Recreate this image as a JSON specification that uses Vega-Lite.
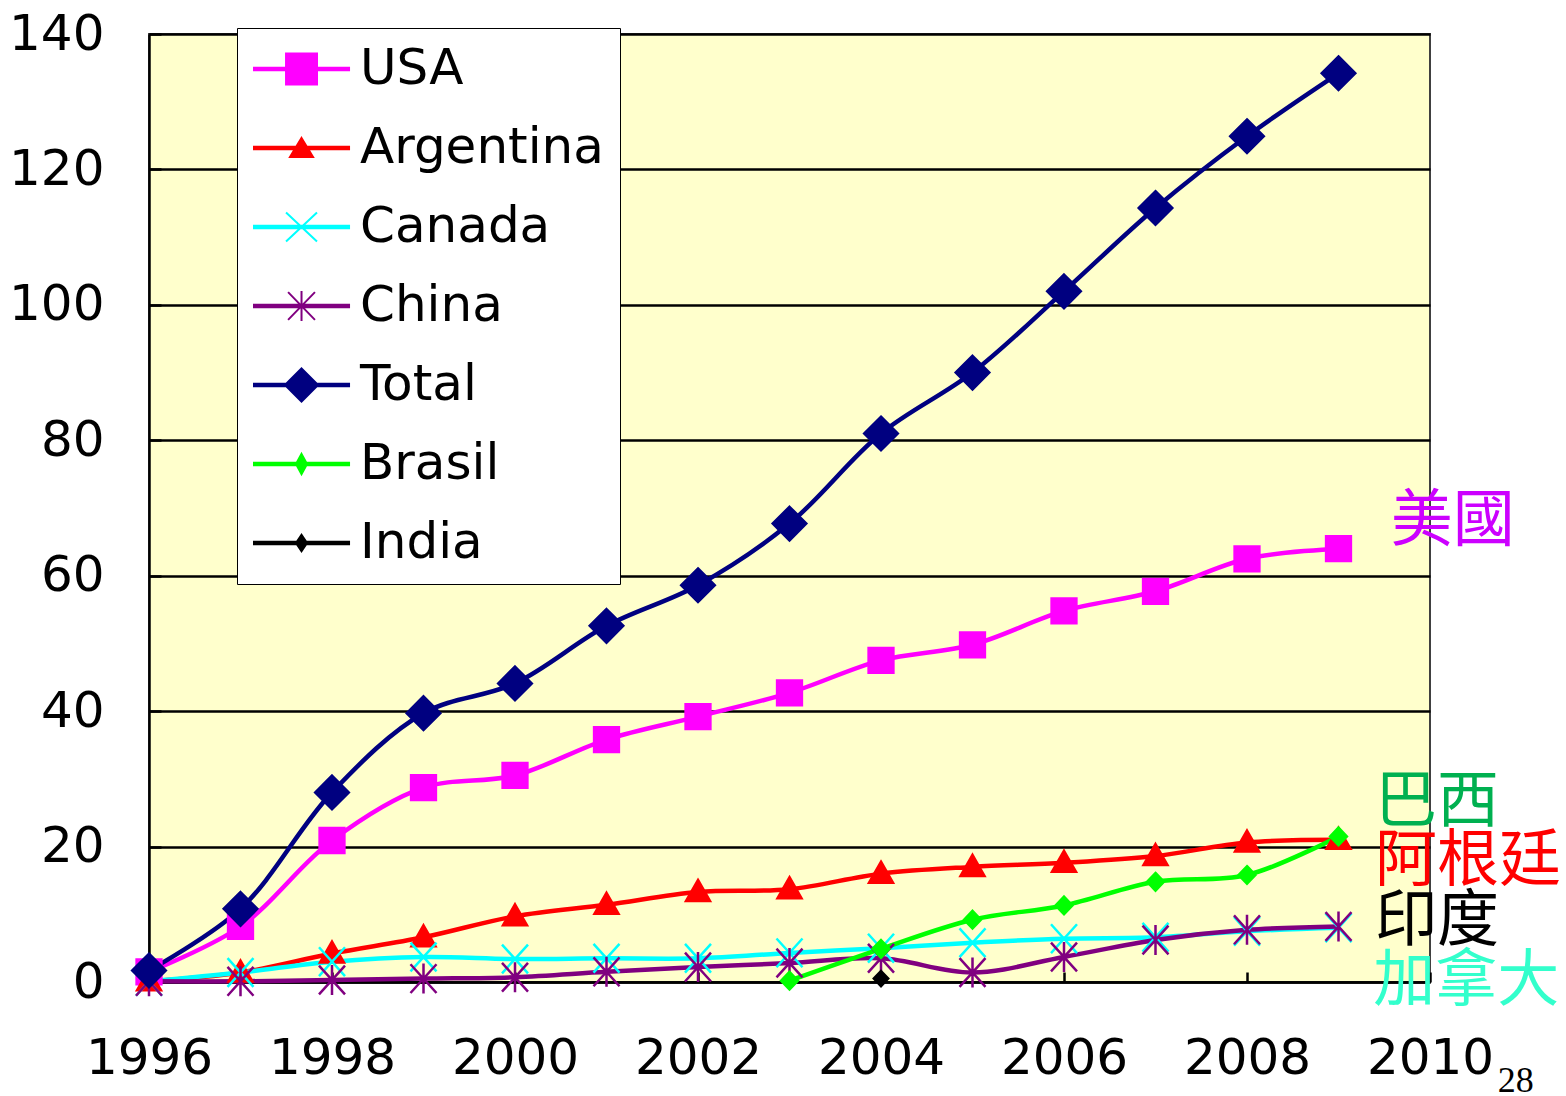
{
  "$schema": "https://vega.github.io/schema/vega-lite/v6.json",
  "autosize": "none",
  "width": 1281,
  "height": 948,
  "padding": {"left": 149, "top": 34, "right": 136, "bottom": 114},
  "background": "white",
  "config": {
    "view": {"fill": "#FFFFCC", "stroke": "#404040", "strokeWidth": 2},
    "axis": {
      "labelFont": "DejaVu Sans",
      "labelFontSize": 50,
      "labelColor": "#000000",
      "domainColor": "#000000",
      "domainWidth": 2.5,
      "tickColor": "#000000",
      "tickWidth": 2.5,
      "labelFlush": false,
      "labelOverlap": false,
      "labelBound": false,
      "title": null
    }
  },
  "datasets": {
    "series": [
      {"series": "USA", "year": 1996, "value": 1.5},
      {"series": "USA", "year": 1997, "value": 8.2},
      {"series": "USA", "year": 1998, "value": 20.9},
      {"series": "USA", "year": 1999, "value": 28.7},
      {"series": "USA", "year": 2000, "value": 30.5},
      {"series": "USA", "year": 2001, "value": 35.8},
      {"series": "USA", "year": 2002, "value": 39.2},
      {"series": "USA", "year": 2003, "value": 42.7},
      {"series": "USA", "year": 2004, "value": 47.5},
      {"series": "USA", "year": 2005, "value": 49.8},
      {"series": "USA", "year": 2006, "value": 54.8},
      {"series": "USA", "year": 2007, "value": 57.7},
      {"series": "USA", "year": 2008, "value": 62.5},
      {"series": "USA", "year": 2009, "value": 64.0},
      {"series": "Argentina", "year": 1996, "value": 0.1},
      {"series": "Argentina", "year": 1997, "value": 1.4},
      {"series": "Argentina", "year": 1998, "value": 4.2},
      {"series": "Argentina", "year": 1999, "value": 6.6},
      {"series": "Argentina", "year": 2000, "value": 9.7},
      {"series": "Argentina", "year": 2001, "value": 11.4},
      {"series": "Argentina", "year": 2002, "value": 13.3},
      {"series": "Argentina", "year": 2003, "value": 13.7},
      {"series": "Argentina", "year": 2004, "value": 16.0},
      {"series": "Argentina", "year": 2005, "value": 17.0},
      {"series": "Argentina", "year": 2006, "value": 17.6},
      {"series": "Argentina", "year": 2007, "value": 18.6},
      {"series": "Argentina", "year": 2008, "value": 20.6},
      {"series": "Argentina", "year": 2009, "value": 21.0},
      {"series": "Canada", "year": 1996, "value": 0.1},
      {"series": "Canada", "year": 1997, "value": 1.4},
      {"series": "Canada", "year": 1998, "value": 3.0},
      {"series": "Canada", "year": 1999, "value": 3.7},
      {"series": "Canada", "year": 2000, "value": 3.4},
      {"series": "Canada", "year": 2001, "value": 3.5},
      {"series": "Canada", "year": 2002, "value": 3.5},
      {"series": "Canada", "year": 2003, "value": 4.3},
      {"series": "Canada", "year": 2004, "value": 5.0},
      {"series": "Canada", "year": 2005, "value": 5.8},
      {"series": "Canada", "year": 2006, "value": 6.4},
      {"series": "Canada", "year": 2007, "value": 6.6},
      {"series": "Canada", "year": 2008, "value": 7.5},
      {"series": "Canada", "year": 2009, "value": 8.0},
      {"series": "China", "year": 1996, "value": 0.1},
      {"series": "China", "year": 1997, "value": 0.1},
      {"series": "China", "year": 1998, "value": 0.3},
      {"series": "China", "year": 1999, "value": 0.5},
      {"series": "China", "year": 2000, "value": 0.7},
      {"series": "China", "year": 2001, "value": 1.5},
      {"series": "China", "year": 2002, "value": 2.2},
      {"series": "China", "year": 2003, "value": 2.8},
      {"series": "China", "year": 2004, "value": 3.5},
      {"series": "China", "year": 2005, "value": 1.4},
      {"series": "China", "year": 2006, "value": 3.7},
      {"series": "China", "year": 2007, "value": 6.2},
      {"series": "China", "year": 2008, "value": 7.7},
      {"series": "China", "year": 2009, "value": 8.2},
      {"series": "Total", "year": 1996, "value": 1.7},
      {"series": "Total", "year": 1997, "value": 10.8},
      {"series": "Total", "year": 1998, "value": 28.0},
      {"series": "Total", "year": 1999, "value": 39.7},
      {"series": "Total", "year": 2000, "value": 44.1},
      {"series": "Total", "year": 2001, "value": 52.6},
      {"series": "Total", "year": 2002, "value": 58.6},
      {"series": "Total", "year": 2003, "value": 67.7},
      {"series": "Total", "year": 2004, "value": 81.0},
      {"series": "Total", "year": 2005, "value": 90.0},
      {"series": "Total", "year": 2006, "value": 102.0},
      {"series": "Total", "year": 2007, "value": 114.3},
      {"series": "Total", "year": 2008, "value": 124.9},
      {"series": "Total", "year": 2009, "value": 134.2},
      {"series": "Brasil", "year": 2003, "value": 0.2},
      {"series": "Brasil", "year": 2004, "value": 4.9},
      {"series": "Brasil", "year": 2005, "value": 9.2},
      {"series": "Brasil", "year": 2006, "value": 11.3},
      {"series": "Brasil", "year": 2007, "value": 14.8},
      {"series": "Brasil", "year": 2008, "value": 15.8},
      {"series": "Brasil", "year": 2009, "value": 21.5},
      {"series": "India", "year": 2004, "value": 0.5}
    ],
    "notes": [
      {"label": "美國", "year": 2009.57, "value": 68.0},
      {"label": "巴西", "year": 2009.4, "value": 26.4},
      {"label": "阿根廷", "year": 2009.4, "value": 17.7},
      {"label": "印度", "year": 2009.4, "value": 8.9},
      {"label": "加拿大", "year": 2009.38, "value": 0.0}
    ],
    "page": [
      {"label": "28", "year": 2010.74, "value": -14.6}
    ]
  },
  "encoding": {
    "x": {
      "field": "year",
      "type": "quantitative",
      "scale": {"domain": [1996, 2010], "nice": false, "zero": false},
      "axis": {
        "values": [1996, 1998, 2000, 2002, 2004, 2006, 2008, 2010],
        "format": "d",
        "grid": false,
        "tickSize": -10,
        "labelPadding": 61
      }
    },
    "y": {
      "field": "value",
      "type": "quantitative",
      "scale": {"domain": [0, 140], "nice": false},
      "axis": {
        "values": [0, 20, 40, 60, 80, 100, 120, 140],
        "grid": true,
        "gridColor": "#000000",
        "gridWidth": 2.5,
        "tickSize": -12,
        "labelPadding": 57
      }
    },
    "color": {
      "field": "series",
      "type": "nominal",
      "scale": {
        "domain": ["USA", "Argentina", "Canada", "China", "Total", "Brasil", "India"],
        "range": ["#FF00FF", "#FF0000", "#00FFFF", "#800080", "#000080", "#00FF00", "#000000"]
      },
      "legend": {
        "orient": "none",
        "legendX": 88,
        "legendY": -6,
        "title": null,
        "fillColor": "#FFFFFF",
        "strokeColor": "#000000",
        "padding": 16,
        "labelFont": "DejaVu Sans",
        "labelFontSize": 50,
        "labelColor": "#000000",
        "labelOffset": 57,
        "labelLimit": 400,
        "symbolSize": 2304,
        "symbolStrokeWidth": 2,
        "symbolOpacity": 1,
        "rowPadding": 29
      }
    }
  },
  "layer": [
    {
      "data": {"name": "series"},
      "mark": {"type": "line", "interpolate": "catmull-rom", "strokeWidth": 4.5}
    },
    {
      "data": {"name": "series"},
      "mark": {"type": "point", "filled": true, "opacity": 0, "strokeWidth": 2},
      "encoding": {
        "stroke": {
          "field": "series",
          "type": "nominal",
          "scale": {
            "domain": ["USA", "Argentina", "Canada", "China", "Total", "Brasil", "India"],
            "range": ["#FF00FF", "#FF0000", "#00FFFF", "#800080", "#000080", "#00FF00", "#000000"]
          },
          "legend": null
        },
        "shape": {
          "field": "series",
          "type": "nominal",
          "scale": {
            "domain": ["USA", "Argentina", "Canada", "China", "Total", "Brasil", "India"],
            "range": [
              "M-1,-0.05H2.96V0.05H-1ZM0.335,-0.645H1.625V0.645H0.335Z",
              "M-1,-0.05H2.96V0.05H-1ZM0.98,-0.42L1.46,0.375H0.5Z",
              "M-1,-0.05H2.96V0.05H-1ZM0.335,-0.6L1.625,0.6M0.335,0.6L1.625,-0.6",
              "M-1,-0.05H2.96V0.05H-1ZM0.42,-0.58L1.54,0.58M0.42,0.58L1.54,-0.58M0.98,-0.62V0.62",
              "M-1,-0.05H2.96V0.05H-1ZM0.98,-0.69L1.67,0L0.98,0.69L0.29,0Z",
              "M-1,-0.05H2.96V0.05H-1ZM0.98,-0.42L1.21,0L0.98,0.42L0.75,0Z",
              "M-1,-0.05H2.96V0.05H-1ZM0.98,-0.34L1.21,0L0.98,0.34L0.75,0Z"
            ]
          }
        }
      }
    },
    {
      "data": {"name": "series"},
      "transform": [{"filter": {"field": "series", "equal": "USA"}}],
      "mark": {"type": "point", "filled": true, "opacity": 1, "size": 1600, "stroke": "#FF00FF", "strokeWidth": 2.5, "shape": "M-0.62,-0.62H0.62V0.62H-0.62Z"}
    },
    {
      "data": {"name": "series"},
      "transform": [{"filter": {"field": "series", "equal": "Argentina"}}],
      "mark": {"type": "point", "filled": true, "opacity": 1, "size": 1600, "stroke": "#FF0000", "strokeWidth": 2.5, "shape": "M0,-0.6L0.6,0.45H-0.6Z"}
    },
    {
      "data": {"name": "series"},
      "transform": [{"filter": {"field": "series", "equal": "Canada"}}],
      "mark": {"type": "point", "filled": true, "opacity": 1, "size": 1600, "stroke": "#00FFFF", "strokeWidth": 2.5, "shape": "M-0.65,-0.72L0.65,0.72M-0.65,0.72L0.65,-0.72"}
    },
    {
      "data": {"name": "series"},
      "transform": [{"filter": {"field": "series", "equal": "China"}}],
      "mark": {"type": "point", "filled": true, "opacity": 1, "size": 1600, "stroke": "#800080", "strokeWidth": 2.5, "shape": "M-0.65,-0.72L0.65,0.72M-0.65,0.72L0.65,-0.72M0,-0.75V0.75"}
    },
    {
      "data": {"name": "series"},
      "transform": [{"filter": {"field": "series", "equal": "Total"}}],
      "mark": {"type": "point", "filled": true, "opacity": 1, "size": 1600, "stroke": "#000080", "strokeWidth": 2.5, "shape": "M0,-0.84L0.84,0L0,0.84L-0.84,0Z"}
    },
    {
      "data": {"name": "series"},
      "transform": [{"filter": {"field": "series", "equal": "Brasil"}}],
      "mark": {"type": "point", "filled": true, "opacity": 1, "size": 1600, "stroke": "#00FF00", "strokeWidth": 2.5, "shape": "M0,-0.44L0.42,0L0,0.44L-0.42,0Z"}
    },
    {
      "data": {"name": "series"},
      "transform": [{"filter": {"field": "series", "equal": "India"}}],
      "mark": {"type": "point", "filled": true, "opacity": 1, "size": 1600, "stroke": "#000000", "strokeWidth": 2.5, "shape": "M0,-0.38L0.36,0L0,0.38L-0.36,0Z"}
    },
    {
      "data": {"name": "notes"},
      "mark": {"type": "text", "font": "Noto Sans CJK TC", "align": "left", "baseline": "middle"},
      "encoding": {
        "text": {"field": "label"},
        "color": null,
        "fill": {
          "field": "label",
          "type": "nominal",
          "scale": {
            "domain": ["美國", "巴西", "阿根廷", "印度", "加拿大"],
            "range": ["#CC00FF", "#00B050", "#FF0000", "#000000", "#33FFCC"]
          },
          "legend": null
        },
        "size": {
          "field": "label",
          "type": "nominal",
          "scale": {
            "domain": ["美國", "巴西", "阿根廷", "印度", "加拿大"],
            "range": [62, 62, 62, 54, 54]
          },
          "legend": null
        }
      }
    },
    {
      "data": {"name": "page"},
      "mark": {"type": "text", "font": "Liberation Serif", "fontSize": 36, "align": "left", "baseline": "middle", "fill": "#000000"},
      "encoding": {
        "text": {"field": "label"},
        "color": null
      }
    }
  ]
}
